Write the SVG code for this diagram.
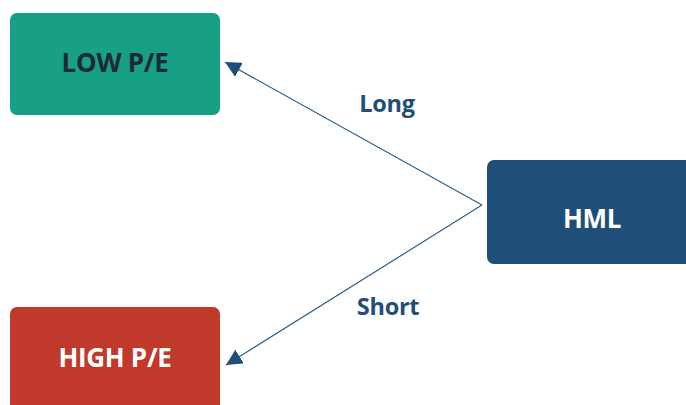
<svg xmlns="http://www.w3.org/2000/svg" width="686" height="405" viewBox="0 0 686 405">
<defs>
<style>
.box{stroke:none}
.t{font-family:"Open Sans","Liberation Sans",sans-serif;font-weight:bold;font-size:26px;text-anchor:middle;dominant-baseline:central;letter-spacing:-0.3px}
.lbl{font-family:"Open Sans","Liberation Sans",sans-serif;font-weight:bold;font-size:23.5px;fill:#1f4e79;text-anchor:middle;dominant-baseline:central;letter-spacing:-0.3px}
.c{stroke:#2e5f8a;stroke-width:1.2;fill:none}
</style>
<marker id="ah" viewBox="0 0 10 10" refX="10" refY="5" markerWidth="16" markerHeight="16" markerUnits="userSpaceOnUse" orient="auto">
<path d="M0,0 L10,5 L0,10 z" fill="#1f4e79"/>
</marker>
</defs>
<rect width="686" height="405" fill="#ffffff"/>
<g id="low">
<rect class="box" x="10" y="13" width="210" height="102" rx="7" fill="#17a085"/>
<text class="t" x="115" y="62" fill="#1e2a35">LOW P/E</text>
</g>
<g id="high">
<rect class="box" x="10" y="307" width="210" height="110" rx="7" fill="#c0392b"/>
<text class="t" x="115" y="357" fill="#ffffff">HIGH P/E</text>
</g>
<g id="hml">
<rect class="box" x="487" y="160" width="210" height="104" rx="7" fill="#1f4e79"/>
<text class="t" x="592" y="218" fill="#ffffff">HML</text>
</g>
<g id="connectors">
<line class="c" x1="482" y1="205" x2="225" y2="62" marker-end="url(#ah)"/>
<line class="c" x1="482" y1="205" x2="226" y2="365" marker-end="url(#ah)"/>
<text class="lbl" x="387" y="103">Long</text>
<text class="lbl" x="388" y="306">Short</text>
</g>
</svg>
